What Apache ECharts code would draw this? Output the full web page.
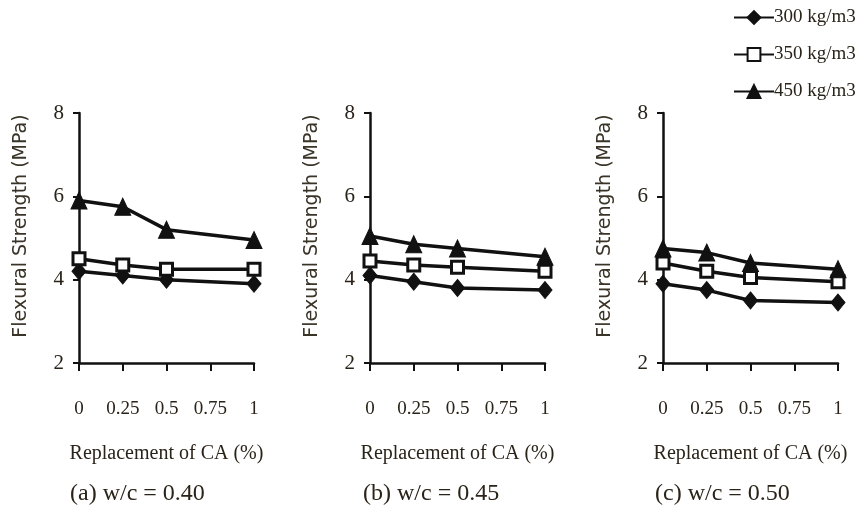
<!DOCTYPE html>
<html>
<head>
<meta charset="utf-8">
<script src="https://cdn.jsdelivr.net/npm/echarts@6/dist/echarts.min.js"></script>
<style>
  html, body { margin: 0; padding: 0; background: #fff; }
  #chart { width: 862px; height: 514px; }
</style>
</head>
<body>
<div id="chart"></div>
<script>
// Replacement of coarse aggregate (fraction) on the x axis
const replacement = [0, 0.25, 0.5, 1];
const xTicks = [0, 0.25, 0.5, 0.75, 1];
const yTicks = [2, 4, 6, 8];
const seriesNames = ['300 kg/m3', '350 kg/m3', '450 kg/m3'];
const captions = ['(a) w/c = 0.40', '(b) w/c = 0.45', '(c) w/c = 0.50'];
const yTitle = 'Flexural Strength (MPa)';
const xTitle = 'Replacement of CA (%)';

// Flexural strength (MPa), one array per cement content, per w/c ratio
const wc040_300 = [4.2, 4.1, 4.0, 3.9];
const wc040_350 = [4.5, 4.35, 4.25, 4.25];
const wc040_450 = [5.9, 5.75, 5.2, 4.95];

const wc045_300 = [4.1, 3.95, 3.8, 3.75];
const wc045_350 = [4.45, 4.35, 4.3, 4.2];
const wc045_450 = [5.05, 4.85, 4.75, 4.55];

const wc050_300 = [3.9, 3.75, 3.5, 3.45];
const wc050_350 = [4.4, 4.2, 4.05, 3.95];
const wc050_450 = [4.75, 4.65, 4.4, 4.25];

const panels = [
  [wc040_300, wc040_350, wc040_450],
  [wc045_300, wc045_350, wc045_450],
  [wc050_300, wc050_350, wc050_450]
];

const gridLefts = [79, 370, 663];
const captionLefts = [70, 363, 655];
const gridWidth = 175;
const gridTop = 113, gridHeight = 250;
const ink = '#111';
const textInk = '#2a2319';
const serif = '"Liberation Serif", "DejaVu Serif", serif';

const symbolStyle = [
  { symbol: 'diamond', symbolSize: [14, 17], itemStyle: { color: ink, borderColor: ink, borderWidth: 1 } },
  { symbol: 'rect', symbolSize: 12, itemStyle: { color: '#fff', borderColor: ink, borderWidth: 3 } },
  { symbol: 'triangle', symbolSize: [16, 17], itemStyle: { color: ink, borderColor: ink, borderWidth: 1 } }
];

const grids = [], xAxes = [], yAxes = [], series = [];
panels.forEach((panel, p) => {
  grids.push({ left: gridLefts[p], top: gridTop, width: gridWidth, height: gridHeight });
  xAxes.push({
    type: 'value', gridIndex: p, min: 0, max: 1, interval: 0.25,
    name: xTitle, nameLocation: 'middle', nameGap: 81,
    nameTextStyle: { color: textInk, fontFamily: serif, fontSize: 20 },
    axisLine: { lineStyle: { color: ink, width: 2.5 } },
    axisTick: { show: true, inside: false, length: 8, lineStyle: { color: ink, width: 2 } },
    axisLabel: {
      color: textInk, fontFamily: serif, fontSize: 19, margin: 37,
      formatter: v => String(xTicks.find(t => Math.abs(t - v) < 1e-9) ?? v)
    },
    splitLine: { show: false }
  });
  yAxes.push({
    type: 'value', gridIndex: p, min: yTicks[0], max: yTicks[yTicks.length - 1], interval: 2,
    axisLine: { show: true, lineStyle: { color: ink, width: 2.5 } },
    axisTick: { show: true, length: 6, lineStyle: { color: ink, width: 2 } },
    axisLabel: { color: textInk, fontFamily: serif, fontSize: 21, margin: 15 },
    splitLine: { show: false }
  });
  panel.forEach((vals, s) => {
    series.push(Object.assign({
      name: seriesNames[s],
      type: 'line',
      xAxisIndex: p, yAxisIndex: p,
      data: replacement.map((x, i) => [x, vals[i]]),
      lineStyle: { color: ink, width: 3.5 },
      showAllSymbol: true,
      z: 2 + s
    }, symbolStyle[s]));
  });
});

// Rotated y-axis titles and panel captions
const graphics = [];
gridLefts.forEach((gl, p) => {
  graphics.push({
    type: 'text',
    x: gl - 58, y: 226,
    rotation: Math.PI / 2,
    style: {
      text: yTitle, fill: '#3a3328',
      font: '19px "DejaVu Sans", sans-serif',
      align: 'center', verticalAlign: 'middle'
    }
  });
  graphics.push({
    type: 'text',
    x: captionLefts[p], y: 494,
    style: { text: captions[p], fill: textInk, font: '24px ' + serif, verticalAlign: 'middle' }
  });
});

const chart = echarts.init(document.getElementById('chart'), null, { renderer: 'canvas' });
chart.setOption({
  animation: false,
  backgroundColor: '#fff',
  grid: grids,
  xAxis: xAxes,
  yAxis: yAxes,
  series: series,
  legend: {
    data: seriesNames,
    orient: 'vertical',
    left: 728, top: 3,
    itemWidth: 40, itemHeight: 16, itemGap: 18,
    textStyle: { color: textInk, fontFamily: serif, fontSize: 19, padding: [0, 0, 0, -5] }
  },
  graphic: graphics
});
</script>
</body>
</html>
